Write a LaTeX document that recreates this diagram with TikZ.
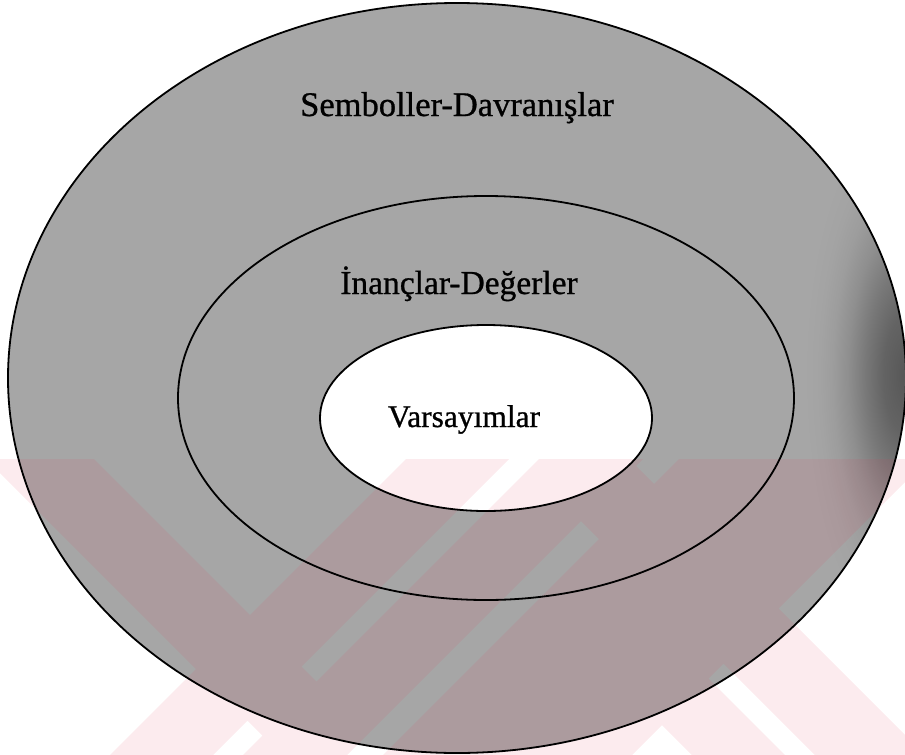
\documentclass[tikz,border=0pt]{standalone}
\usepackage{fontspec}
\setmainfont[FakeBold=0.8]{Liberation Serif}
\definecolor{ringgray}{rgb}{0.651,0.651,0.651}
\definecolor{wmpink}{RGB}{230,60,90}
\pgfdeclareradialshading{smudgeshade}{\pgfpoint{0bp}{0bp}}{rgb(0bp)=(0.34,0.34,0.34); rgb(0.5bp)=(0.39,0.39,0.39); rgb(0.9bp)=(0.47,0.47,0.47); rgb(1.3bp)=(0.56,0.56,0.56); rgb(1.65bp)=(0.615,0.615,0.615); rgb(1.95bp)=(0.64,0.64,0.64); rgb(2.3bp)=(0.651,0.651,0.651); rgb(50bp)=(0.651,0.651,0.651)}
\begin{document}
\begin{tikzpicture}[x=1pt,y=-1pt,
  ring/.style={draw=black, line width=1.8pt},
  lbl/.style={inner sep=0pt, anchor=base}]
\useasboundingbox (0,0) rectangle (905,755);
\fill[white] (0,0) rectangle (905,755);
% gray rings with darker smudge at the right
\begin{scope}
  \clip (457,378) ellipse [x radius=449, y radius=375];
  \shade[shading=smudgeshade] (905,375) ellipse [x radius=1100, y radius=2900];
\end{scope}
\fill[white] (486,418) ellipse [x radius=166, y radius=93];
% faint watermark (one path, filled once)
\begin{scope}
  \clip (0,459) rectangle (905,755);
  \fill[wmpink, fill opacity=0.1, nonzero rule]
    (110,755) -- (213,755) -- (509,459) -- (406,459) -- cycle
    (243,755) -- (347,755) -- (643,459) -- (539,459) -- cycle
    (383,755) -- (632,755) -- (928,459) -- (679,459) -- cycle
    (692,755) -- (785,755) -- (584,554) -- (537.5,600.5) -- cycle
    (815,755) -- (925,755) -- (629,459) -- (539,459) -- (529,469) -- cycle
    (282,755) -- (347,755) -- (368.5,733.5) -- (94,459) -- (-14,459) -- cycle;
\end{scope}
% outlines
\draw[ring] (457,378) ellipse [x radius=449, y radius=375];
\draw[ring] (486,398) ellipse [x radius=308, y radius=202];
\draw[ring] (486,418) ellipse [x radius=166, y radius=93];
% labels
\node[lbl, font=\fontsize{34.5}{40}\selectfont] (sym) at (457,116) {Semboller-Davranışlar};
\node[lbl, font=\fontsize{33.5}{40}\selectfont] (bel) at (459,294) {İnançlar-Değerler};
\node[lbl, font=\fontsize{31.5}{38}\selectfont] (ass) at (464,427) {Varsayımlar};
\end{tikzpicture}
\end{document}
